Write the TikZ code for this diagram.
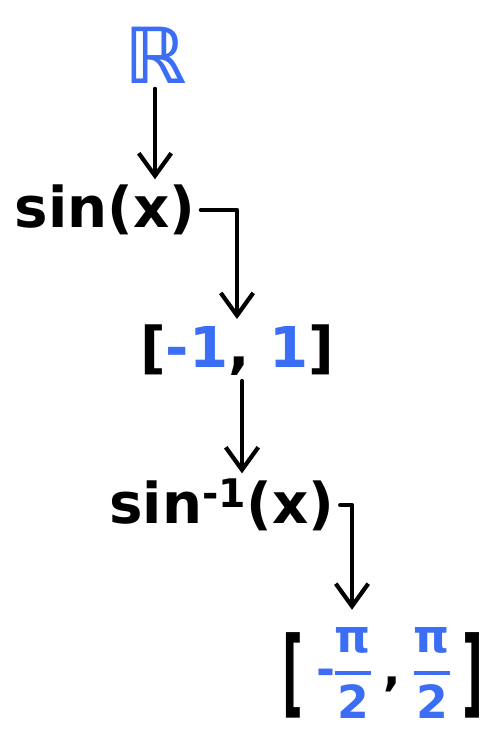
\documentclass[tikz,border=0pt]{standalone}
\usepackage{fontspec}
\setmainfont{DejaVu Sans}
\usetikzlibrary{positioning, arrows.meta, calc}
\definecolor{penblue}{HTML}{3B6EF5}

% pieces of the last interval
\newcommand{\halfpi}{\ensuremath{\vcenter{\hbox{\setlength{\arrayrulewidth}{2.6pt}%
    \renewcommand{\arraystretch}{0.95}%
    \begin{tabular}{@{}c@{}}π\\[1pt]\hline\rule{0pt}{0.95em}2\end{tabular}}}}}
\newcommand{\tallbr}[1]{\ensuremath{\vcenter{\hbox{\scalebox{1}[2.1]{#1}}}}}

\begin{document}
\begin{tikzpicture}[
    >={Straight Barb[length=4.5mm,width=6.5mm,line width=2.4pt]},
    line width=2.4pt,
    arrow/.style={
        ->,
        line width=2.4pt,
        line cap=round,
        line join=round
    },
    word/.style={
        inner sep=2pt,
        font=\fontsize{32}{38}\selectfont\bfseries,
        align=center
    },
    set/.style={
        word,
        text=penblue
    }
]

    \useasboundingbox (0,0) rectangle (9.98,-14.7);

    % Domain
    \node[set, font=\fontsize{44}{50}\selectfont\bfseries] (reals) at (3.1,-1.1) {ℝ};

    % sine
    \node[word] (sine) at (2.1,-4.2) {sin(x)};
    \draw[arrow] (reals.south) -- (reals.south |- sine.north);

    % Range of sine
    \node[word] (range) at (4.74,-7.0) {[\textcolor{penblue}{-1}, \textcolor{penblue}{1}]};
    \draw[arrow] (sine.east) -| (range.north);

    % inverse sine
    \node[word] (arcsine) at (4.44,-10.1) {sin\textsuperscript{-1}(x)};
    \draw[arrow] ([xshift=0.1cm]range.south) -- ([xshift=0.1cm]range.south |- arcsine.north);

    % Range of inverse sine
    \node[word, font=\fontsize{26}{32}\selectfont\bfseries] (angles) at (7.66,-13.5)
        {\tallbr{[}\;\textcolor{penblue}{-\halfpi}\;,\;\textcolor{penblue}{\halfpi}\;\tallbr{]}};
    \draw[arrow] (arcsine.east) -| ([xshift=-0.62cm]angles.north);

\end{tikzpicture}
\end{document}
